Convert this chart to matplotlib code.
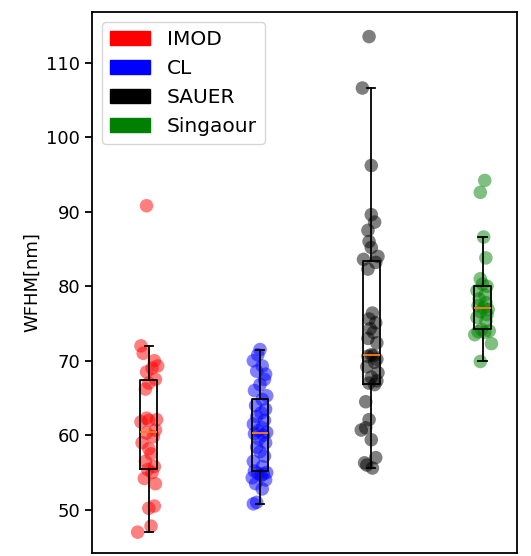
import numpy as np
import matplotlib
matplotlib.use("Agg")
import matplotlib.pyplot as plt
from matplotlib.patches import Patch

# WFHM values per method
imod = [47.0, 47.8, 50.2, 50.5, 53.5, 54.2, 55.0, 55.4, 55.8, 56.5,
        57.5, 58.2, 59.0, 59.8, 60.3, 60.7, 61.8, 62.0, 62.1, 62.3,
        66.2, 67.0, 67.5, 68.5, 69.0, 69.3, 70.0, 71.0, 72.0, 90.8]
cl = [50.8, 51.0, 52.8, 53.5, 54.0, 54.3, 54.6, 54.8, 54.9, 55.0,
      55.2, 55.8, 56.5, 57.2, 57.8, 58.4, 59.0, 59.5, 60.0, 60.2,
      60.4, 60.6, 61.0, 61.5, 62.0, 62.5, 63.0, 63.5, 64.0, 64.8,
      65.3, 66.0, 66.8, 67.5, 68.2, 68.6, 69.3, 70.0, 70.8, 71.5]
sauer = [55.6, 56.0, 56.3, 57.0, 59.4, 60.7, 61.0, 62.1, 64.5, 66.8,
         67.0, 67.3, 67.8, 68.4, 69.2, 69.8, 70.2, 70.6, 70.7, 70.8,
         72.4, 73.0, 73.8, 74.3, 75.1, 75.6, 76.4, 82.3, 83.2, 83.6,
         84.0, 85.2, 86.0, 87.5, 88.6, 89.6, 96.2, 106.6, 113.5]
singaour = [69.9, 72.3, 73.5, 73.8, 73.9, 74.0, 74.2, 75.3, 75.8, 76.2,
            76.6, 76.9, 77.1, 77.4, 77.8, 78.3, 78.8, 79.4, 80.0, 80.3,
            81.0, 83.8, 86.6, 92.6, 94.2]

# horizontal jitter of the dots (same order as values)
jit_imod = [-0.10, 0.02, 0.00, 0.05, 0.06, -0.04, 0.03, -0.01, 0.05, -0.03,
            0.02, 0.00, -0.06, 0.04, -0.02, 0.06, -0.07, 0.00, 0.07, -0.02,
            -0.03, 0.00, 0.06, -0.02, 0.03, 0.08, 0.05, -0.05, -0.07, -0.02]
jit_cl = [-0.06, -0.03, 0.02, -0.04, 0.05, -0.07, 0.01, 0.03, -0.02, 0.06,
          -0.05, 0.02, -0.06, 0.04, 0.00, -0.03, 0.05, -0.01, 0.03, -0.05,
          0.06, -0.02, 0.02, -0.06, 0.04, -0.03, 0.01, 0.05, -0.04, 0.02,
          0.06, -0.05, 0.00, 0.04, 0.05, -0.03, 0.02, -0.06, -0.02, 0.00]
jit_sauer = [0.01, -0.04, -0.06, 0.04, 0.00, -0.09, -0.05, -0.02, -0.05, 0.03,
             -0.02, 0.05, 0.00, 0.06, -0.04, 0.03, 0.05, -0.03, 0.02, 0.00,
             0.05, -0.03, 0.02, -0.01, 0.04, -0.02, 0.01, -0.03, 0.04, -0.07,
             0.06, 0.00, -0.02, -0.03, 0.03, 0.00, 0.00, -0.08, -0.02]
jit_singaour = [-0.02, 0.08, -0.07, 0.02, -0.04, 0.06, -0.01, 0.03, -0.05, 0.04,
                -0.02, 0.05, 0.01, -0.04, 0.03, -0.03, 0.02, -0.05, 0.04, 0.00,
                -0.02, 0.03, 0.01, -0.02, 0.02]

labels = ["IMOD", "CL", "SAUER", "Singaour"]
colors = ["red", "blue", "black", "green"]
groups = [imod, cl, sauer, singaour]
jitters = [jit_imod, jit_cl, jit_sauer, jit_singaour]

fig = plt.figure(figsize=(5.31, 5.56), dpi=100)
ax = fig.add_axes([0.1733, 0.0054, 0.8004, 0.973])

for i, (vals, jit, c) in enumerate(zip(groups, jitters, colors)):
    x = np.array(jit) + i + 1
    ax.scatter(x, vals, s=95, color=c, alpha=0.5, edgecolors="none", zorder=1)

ax.boxplot(groups, positions=[1, 2, 3, 4], widths=0.15, showfliers=False,
           boxprops=dict(linewidth=1.3),
           whiskerprops=dict(linewidth=1.3),
           capprops=dict(linewidth=1.3),
           medianprops=dict(color="#ff7f0e", linewidth=1.3))

ax.set_xlim(0.49, 4.31)
ax.set_ylim(44.2, 116.8)
ax.set_xticks([])
ax.set_yticks([50, 60, 70, 80, 90, 100, 110])
ax.tick_params(axis="y", labelsize=13, length=5, width=1.3)
ax.set_ylabel("WFHM[nm]", fontsize=13)
for sp in ax.spines.values():
    sp.set_linewidth(1.3)

handles = [Patch(color=c, label=l) for c, l in zip(colors, labels)]
ax.legend(handles=handles, loc="upper left", fontsize=14.5)

fig.savefig("out.png", dpi=100)
